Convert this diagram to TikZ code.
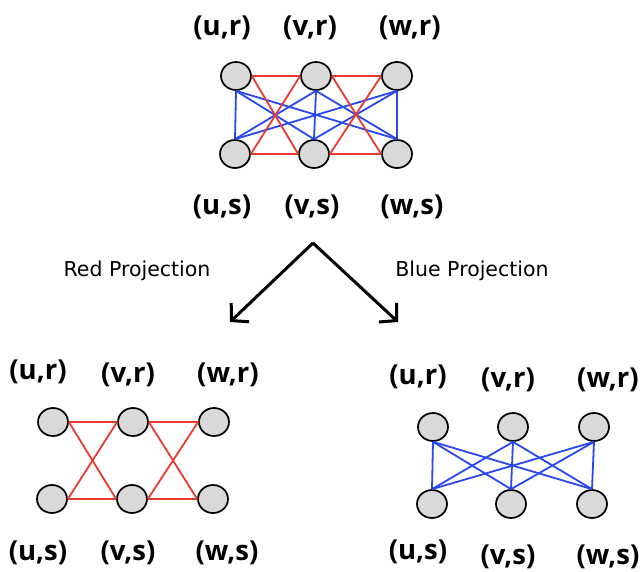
\documentclass[tikz,border=0pt]{standalone}
\usepackage{fontspec}
\setmainfont{DejaVu Sans}
\newfontfamily\lblfont{Open Sans}
\usetikzlibrary{arrows.meta,shapes.geometric}
\definecolor{nodegray}{RGB}{217,217,217}
\definecolor{edgered}{RGB}{232,58,45}
\definecolor{edgeblue}{RGB}{40,72,240}
\tikzset{
  vtx/.style={ellipse,draw=black,line width=1.7pt,fill=nodegray,minimum width=30pt,minimum height=28pt,inner sep=0pt},
  lbl/.style={font=\lblfont\bfseries\fontsize{27.5}{31}\selectfont,inner sep=0pt},
  ptxt/.style={font=\fontsize{20.5}{24}\selectfont,inner sep=0pt},
  redE/.style={draw=edgered,line width=1.8pt},
  blueE/.style={draw=edgeblue,line width=1.8pt},
  projarrow/.style={draw=black,line width=3pt,-{Straight Barb[length=12pt,width=26pt,line width=3pt]}}
}
\begin{document}
\begin{tikzpicture}[x=1pt,y=-1pt]
\useasboundingbox (0,0) rectangle (643,571);
% ---------- top graph ----------
\node[lbl] (tlur) at (222,28) {(u,r)};
\node[lbl] (tlvr) at (310,28) {(v,r)};
\node[lbl] (tlwr) at (410,28) {(w,r)};
\node[lbl] (tlus) at (222,207) {(u,s)};
\node[lbl] (tlvs) at (312,207) {(v,s)};
\node[lbl] (tlws) at (412,207) {(w,s)};
\node[vtx] (tur) at (236,76) {};
\node[vtx] (tvr) at (316,76) {};
\node[vtx] (twr) at (397,76) {};
\node[vtx] (tus) at (235,154) {};
\node[vtx] (tvs) at (314,154) {};
\node[vtx] (tws) at (397,154) {};
% blue edges
\foreach \a in {tur,tvr,twr}{
  \foreach \b in {tus,tvs,tws}{
    \draw[blueE] (\a.south) -- (\b.north);
  }
}
% red edges
\draw[redE] (tur.east) -- (tvr.west);
\draw[redE] (tvr.east) -- (twr.west);
\draw[redE] (tus.east) -- (tvs.west);
\draw[redE] (tvs.east) -- (tws.west);
\draw[redE] (tur.east) -- (tvs.west);
\draw[redE] (tvr.west) -- (tus.east);
\draw[redE] (tvr.east) -- (tws.west);
\draw[redE] (twr.west) -- (tvs.east);
% ---------- arrows ----------
\coordinate (apex) at (313,243);
\coordinate (ltip) at (230,322);
\coordinate (rtip) at (398,322);
\draw[projarrow] (apex) -- (ltip);
\draw[projarrow] (apex) -- (rtip);
\node[ptxt] (redlbl) at (137,271) {Red Projection};
\node[ptxt] (bluelbl) at (472,271) {Blue Projection};
% ---------- red projection ----------
\node[lbl] (llur) at (38,372) {(u,r)};
\node[lbl] (llvr) at (128,375) {(v,r)};
\node[lbl] (llwr) at (228,375) {(w,r)};
\node[lbl] (llus) at (38,553) {(u,s)};
\node[lbl] (llvs) at (128,553) {(v,s)};
\node[lbl] (llws) at (227,553) {(w,s)};
\node[vtx] (lur) at (53,422) {};
\node[vtx] (lvr) at (133,422) {};
\node[vtx] (lwr) at (214,422) {};
\node[vtx] (lus) at (52,499) {};
\node[vtx] (lvs) at (132,499) {};
\node[vtx] (lws) at (213,499) {};
\draw[redE] (lur.east) -- (lvr.west);
\draw[redE] (lvr.east) -- (lwr.west);
\draw[redE] (lus.east) -- (lvs.west);
\draw[redE] (lvs.east) -- (lws.west);
\draw[redE] (lur.east) -- (lvs.west);
\draw[redE] (lvr.west) -- (lus.east);
\draw[redE] (lvr.east) -- (lws.west);
\draw[redE] (lwr.west) -- (lvs.east);
% ---------- blue projection ----------
\node[lbl] (rlur) at (418,377) {(u,r)};
\node[lbl] (rlvr) at (508,380) {(v,r)};
\node[lbl] (rlwr) at (608,380) {(w,r)};
\node[lbl] (rlus) at (418,552) {(u,s)};
\node[lbl] (rlvs) at (508,557) {(v,s)};
\node[lbl] (rlws) at (608,557) {(w,s)};
\node[vtx] (rur) at (433,427) {};
\node[vtx] (rvr) at (513,427) {};
\node[vtx] (rwr) at (594,427) {};
\node[vtx] (rus) at (432,504) {};
\node[vtx] (rvs) at (511,504) {};
\node[vtx] (rws) at (592,504) {};
\foreach \a in {rur,rvr,rwr}{
  \foreach \b in {rus,rvs,rws}{
    \draw[blueE] (\a.south) -- (\b.north);
  }
}
\end{tikzpicture}
\end{document}
